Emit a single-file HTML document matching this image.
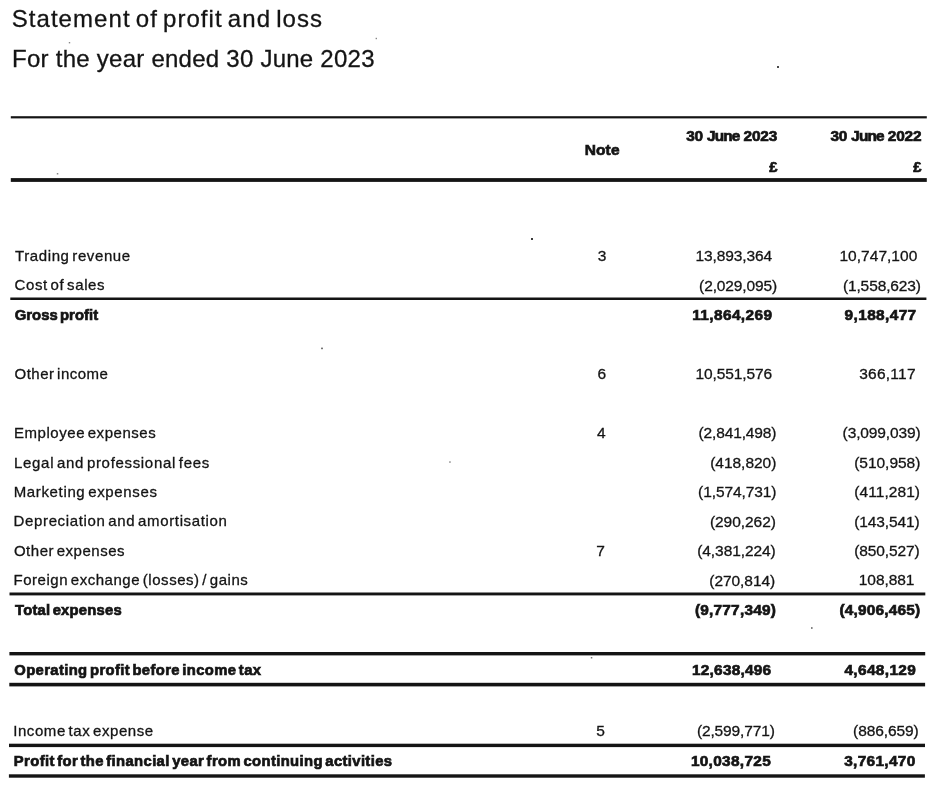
<!DOCTYPE html>
<html><head><meta charset="utf-8"><title>Statement of profit and loss</title>
<style>
html,body{margin:0;padding:0;background:#fff;}
body{width:941px;height:791px;position:relative;overflow:hidden;font-family:"Liberation Sans",sans-serif;color:#141414;}
.t{position:absolute;white-space:nowrap;line-height:1;transform-origin:0 0;-webkit-text-stroke:0.3px #141414;}
.l{position:absolute;background:#141414;}
.b{font-weight:bold;-webkit-text-stroke-width:0.7px;}
#p{position:absolute;left:0;top:0;width:941px;height:791px;will-change:transform;}
</style></head><body><div id="p">
<div class="t" style="left:11.69px;top:7.01px;font-size:24.00px;word-spacing:-2.6px;letter-spacing:1.059px">Statement of profit and loss</div>
<div class="t" style="left:12.11px;top:47.01px;font-size:24.00px;letter-spacing:0.249px">For the year ended 30 June 2023</div>
<div class="t b" style="left:584.71px;top:141.90px;font-size:15.50px;letter-spacing:0.129px">Note</div>
<div class="t b" style="left:686.22px;top:128.31px;font-size:15.40px;letter-spacing:-0.203px">30 <span style="letter-spacing:-0.85px">June</span> 2023</div>
<div class="t b" style="left:830.48px;top:128.31px;font-size:15.40px;letter-spacing:-0.207px">30 <span style="letter-spacing:-0.85px">June</span> 2022</div>
<div class="t b" style="left:769.16px;top:160.11px;font-size:14.80px">£</div>
<div class="t b" style="left:913.30px;top:160.11px;font-size:14.80px">£</div>
<div class="t" style="left:15.02px;top:247.71px;font-size:15.00px;word-spacing:-2.0px;letter-spacing:0.604px">Trading revenue</div>
<div class="t" style="left:14.57px;top:277.40px;font-size:15.00px;word-spacing:-2.0px;letter-spacing:0.608px">Cost of sales</div>
<div class="t b" style="left:14.72px;top:308.01px;font-size:14.80px;word-spacing:-2.0px;letter-spacing:0.065px">Gross profit</div>
<div class="t" style="left:14.53px;top:366.10px;font-size:15.00px;word-spacing:-2.0px;letter-spacing:0.480px">Other income</div>
<div class="t" style="left:14.06px;top:424.90px;font-size:15.00px;word-spacing:-2.0px;letter-spacing:0.534px">Employee expenses</div>
<div class="t" style="left:14.06px;top:454.51px;font-size:15.00px;word-spacing:-2.0px;letter-spacing:0.680px">Legal and professional fees</div>
<div class="t" style="left:13.68px;top:483.60px;font-size:15.00px;word-spacing:-2.0px;letter-spacing:0.648px">Marketing expenses</div>
<div class="t" style="left:13.56px;top:513.21px;font-size:15.00px;word-spacing:-2.0px;letter-spacing:0.644px">Depreciation and amortisation</div>
<div class="t" style="left:13.91px;top:542.90px;font-size:15.00px;word-spacing:-2.0px;letter-spacing:0.517px">Other expenses</div>
<div class="t" style="left:13.44px;top:572.31px;font-size:15.00px;word-spacing:-2.0px;letter-spacing:0.538px">Foreign exchange (losses) / gains</div>
<div class="t b" style="left:14.98px;top:602.61px;font-size:14.80px;word-spacing:-2.0px;letter-spacing:0.224px">Total expenses</div>
<div class="t b" style="left:14.31px;top:662.71px;font-size:14.80px;word-spacing:-2.0px;letter-spacing:0.368px">Operating profit before income tax</div>
<div class="t" style="left:13.21px;top:722.71px;font-size:15.00px;word-spacing:-2.0px;letter-spacing:0.569px">Income tax expense</div>
<div class="t b" style="left:13.85px;top:753.80px;font-size:14.80px;word-spacing:-2.0px;letter-spacing:0.373px">Profit for the financial year from continuing activities</div>
<div class="t" style="left:597.65px;top:248.01px;font-size:15.50px">3</div>
<div class="t" style="left:597.41px;top:366.21px;font-size:15.50px">6</div>
<div class="t" style="left:596.96px;top:425.21px;font-size:15.50px">4</div>
<div class="t" style="left:596.35px;top:542.61px;font-size:15.50px">7</div>
<div class="t" style="left:596.23px;top:722.51px;font-size:15.50px">5</div>
<div class="t" style="left:695.42px;top:247.90px;font-size:15.50px;letter-spacing:-0.104px">13,893,364</div>
<div class="t" style="left:699.11px;top:277.61px;font-size:15.50px;letter-spacing:-0.130px">(2,029,095)</div>
<div class="t b" style="left:692.24px;top:307.00px;font-size:15.40px;letter-spacing:0.399px">11,864,269</div>
<div class="t" style="left:695.47px;top:366.11px;font-size:15.50px;letter-spacing:-0.114px">10,551,576</div>
<div class="t" style="left:698.61px;top:425.11px;font-size:15.50px;letter-spacing:-0.150px">(2,841,498)</div>
<div class="t" style="left:710.23px;top:454.51px;font-size:15.50px;letter-spacing:-0.031px">(418,820)</div>
<div class="t" style="left:698.11px;top:484.11px;font-size:15.50px;letter-spacing:-0.105px">(1,574,731)</div>
<div class="t" style="left:709.88px;top:513.61px;font-size:15.50px;letter-spacing:-0.045px">(290,262)</div>
<div class="t" style="left:697.23px;top:543.11px;font-size:15.50px;letter-spacing:-0.073px">(4,381,224)</div>
<div class="t" style="left:709.36px;top:572.51px;font-size:15.50px;letter-spacing:-0.070px">(270,814)</div>
<div class="t b" style="left:694.91px;top:602.00px;font-size:15.40px;letter-spacing:0.226px">(9,777,349)</div>
<div class="t b" style="left:691.99px;top:661.70px;font-size:15.40px;letter-spacing:0.241px">12,638,496</div>
<div class="t" style="left:696.88px;top:722.90px;font-size:15.50px;letter-spacing:-0.135px">(2,599,771)</div>
<div class="t b" style="left:690.88px;top:752.70px;font-size:15.40px;letter-spacing:0.313px">10,038,725</div>
<div class="t" style="left:839.47px;top:247.90px;font-size:15.50px;letter-spacing:0.024px">10,747,100</div>
<div class="t" style="left:842.88px;top:277.61px;font-size:15.50px;letter-spacing:-0.113px">(1,558,623)</div>
<div class="t b" style="left:844.58px;top:307.00px;font-size:15.40px;letter-spacing:0.386px">9,188,477</div>
<div class="t" style="left:859.22px;top:366.11px;font-size:15.50px;letter-spacing:0.235px">366,117</div>
<div class="t" style="left:842.61px;top:425.11px;font-size:15.50px;letter-spacing:-0.120px">(3,099,039)</div>
<div class="t" style="left:854.23px;top:454.51px;font-size:15.50px;letter-spacing:-0.031px">(510,958)</div>
<div class="t" style="left:854.23px;top:484.11px;font-size:15.50px;letter-spacing:0.077px">(411,281)</div>
<div class="t" style="left:854.23px;top:513.61px;font-size:15.50px;letter-spacing:-0.118px">(143,541)</div>
<div class="t" style="left:854.23px;top:543.11px;font-size:15.50px;letter-spacing:-0.118px">(850,527)</div>
<div class="t" style="left:858.80px;top:572.30px;font-size:15.50px;letter-spacing:-0.064px">108,881</div>
<div class="t b" style="left:839.44px;top:602.00px;font-size:15.40px;letter-spacing:0.207px">(4,906,465)</div>
<div class="t b" style="left:844.43px;top:661.70px;font-size:15.40px;letter-spacing:0.364px">4,648,129</div>
<div class="t" style="left:853.11px;top:722.90px;font-size:15.50px;letter-spacing:-0.085px">(886,659)</div>
<div class="t b" style="left:844.17px;top:752.70px;font-size:15.40px;letter-spacing:0.323px">3,761,470</div>
<svg width="941" height="791" viewBox="0 0 941 791" style="position:absolute;left:0;top:0" fill="#141414">
<rect x="10.8" y="116.2" width="916.0" height="2.2"/>
<rect x="10.8" y="178.1" width="916.0" height="3.8"/>
<rect x="10.3" y="297.5" width="916.1" height="2.5"/>
<rect x="9.5" y="592.5" width="915.8" height="2.9"/>
<rect x="9.4" y="652.0" width="915.8" height="3.4"/>
<rect x="9.3" y="682.8" width="915.8" height="3.6"/>
<rect x="9.0" y="743.7" width="916.0" height="3.4"/>
<rect x="8.9" y="774.3" width="916.0" height="3.4"/>
<rect x="777" y="66" width="2" height="2" fill="#4a4a4a"/>
<rect x="531" y="238" width="2" height="2" fill="#3a3a3a"/>
<rect x="321.2" y="347.6" width="1.6" height="1.6" fill="#555"/>
<rect x="449.2" y="461.3" width="1.5" height="1.5" fill="#888"/>
<rect x="811" y="627.2" width="1.6" height="1.6" fill="#666"/>
<rect x="590.8" y="657" width="1.5" height="1.5" fill="#777"/>
<rect x="375.6" y="37.8" width="1.4" height="1.4" fill="#888"/>
<rect x="68.8" y="42" width="1.4" height="1.4" fill="#888"/>
<rect x="56.8" y="173" width="1.5" height="1.5" fill="#888"/>
</svg>
</div></body></html>
